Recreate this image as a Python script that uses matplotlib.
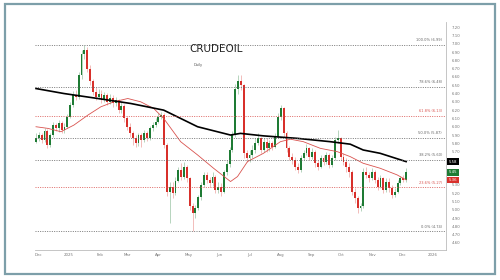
import matplotlib
matplotlib.use("Agg")
import matplotlib.pyplot as plt
import matplotlib.dates as mdates
from matplotlib.patches import Rectangle
import numpy as np
import pandas as pd

# --- Data ---
closes = [5.86, 5.90, 5.84, 5.95, 5.78, 5.90, 6.02, 5.98, 6.05, 5.96,
          6.00, 6.12, 6.26, 6.38, 6.36, 6.62, 6.88, 6.93, 6.70, 6.55,
          6.42, 6.36, 6.40, 6.32, 6.38, 6.30, 6.35, 6.28, 6.32, 6.20,
          6.25, 6.10, 6.00, 5.92, 5.86, 5.80, 5.90, 5.84, 5.92, 5.86,
          5.98, 6.02, 6.06, 6.12, 6.14, 5.78, 5.22, 5.28, 5.20, 5.35,
          5.48, 5.40, 5.52, 5.38, 5.05, 4.96, 5.02, 5.15, 5.30, 5.42,
          5.36, 5.32, 5.40, 5.24, 5.28, 5.22, 5.45, 5.55, 5.72, 5.90,
          6.45, 6.55, 6.50, 5.68, 5.62, 5.66, 5.72, 5.80, 5.86, 5.72,
          5.82, 5.74, 5.80, 5.76, 5.88, 6.12, 6.22, 5.92, 5.74, 5.64,
          5.60, 5.52, 5.48, 5.62, 5.68, 5.74, 5.64, 5.70, 5.56, 5.52,
          5.62, 5.58, 5.66, 5.54, 5.62, 5.84, 5.86, 5.64, 5.58, 5.52,
          5.45, 5.22, 5.14, 5.02, 5.04, 5.46, 5.42, 5.38, 5.46, 5.36,
          5.28, 5.38, 5.24, 5.34, 5.26, 5.18, 5.22, 5.32, 5.38, 5.36,
          5.45]
highs = [5.92, 5.94, 5.93, 5.98, 5.97, 5.93, 6.06, 6.05, 6.08, 6.07,
         6.04, 6.15, 6.30, 6.43, 6.44, 6.66, 6.92, 6.99, 6.96, 6.74,
         6.58, 6.48, 6.46, 6.44, 6.42, 6.41, 6.40, 6.38, 6.36, 6.34,
         6.30, 6.27, 6.13, 6.04, 5.95, 5.90, 5.93, 5.93, 5.96, 5.95,
         6.01, 6.06, 6.10, 6.16, 6.18, 6.16, 5.80, 5.33, 5.34, 5.40,
         5.52, 5.56, 5.58, 5.54, 5.40, 5.08, 5.06, 5.18, 5.34, 5.46,
         5.46, 5.40, 5.45, 5.42, 5.33, 5.32, 5.48, 5.60, 5.76, 5.95,
         6.52, 6.62, 6.62, 6.52, 5.72, 5.72, 5.78, 5.86, 5.92, 5.88,
         5.86, 5.86, 5.84, 5.83, 5.92, 6.16, 6.26, 6.24, 5.95, 5.77,
         5.68, 5.63, 5.56, 5.66, 5.72, 5.79, 5.76, 5.74, 5.72, 5.60,
         5.66, 5.66, 5.70, 5.68, 5.66, 5.88, 5.96, 5.88, 5.68, 5.62,
         5.56, 5.48, 5.26, 5.16, 5.08, 5.50, 5.52, 5.46, 5.50, 5.48,
         5.40, 5.42, 5.40, 5.38, 5.38, 5.30, 5.26, 5.36, 5.41, 5.42,
         5.50]
lows = [5.80, 5.83, 5.80, 5.82, 5.74, 5.76, 5.88, 5.95, 5.94, 5.93,
        5.93, 5.98, 6.10, 6.24, 6.32, 6.34, 6.58, 6.82, 6.66, 6.50,
        6.38, 6.32, 6.33, 6.28, 6.30, 6.26, 6.27, 6.24, 6.25, 6.16,
        6.17, 6.06, 5.96, 5.88, 5.78, 5.76, 5.77, 5.76, 5.82, 5.83,
        5.84, 5.95, 6.00, 6.04, 6.09, 5.74, 5.16, 4.84, 5.14, 5.18,
        5.33, 5.36, 5.37, 5.33, 5.00, 4.74, 4.90, 5.00, 5.12, 5.27,
        5.32, 5.27, 5.29, 5.20, 5.20, 5.17, 5.20, 5.42, 5.52, 5.70,
        5.88, 6.40, 6.44, 5.62, 5.58, 5.58, 5.62, 5.68, 5.78, 5.68,
        5.70, 5.70, 5.71, 5.72, 5.74, 5.86, 6.08, 5.88, 5.70, 5.60,
        5.55, 5.48, 5.44, 5.46, 5.60, 5.66, 5.60, 5.61, 5.52, 5.48,
        5.50, 5.54, 5.55, 5.50, 5.52, 5.60, 5.80, 5.60, 5.54, 5.46,
        5.40, 5.18, 5.08, 4.96, 4.98, 5.02, 5.38, 5.34, 5.36, 5.32,
        5.24, 5.26, 5.20, 5.22, 5.22, 5.14, 5.15, 5.20, 5.30, 5.33,
        5.34]
first_open = 5.82

ma_slow_dates = ["2024-11-29", "2024-12-27", "2025-01-30", "2025-03-04",
                 "2025-04-06", "2025-05-10", "2025-06-12", "2025-06-22",
                 "2025-07-15", "2025-08-18", "2025-09-20", "2025-10-10",
                 "2025-10-23", "2025-11-09", "2025-12-05"]
ma_slow = [6.46, 6.40, 6.34, 6.28, 6.20, 6.00, 5.90, 5.92, 5.89, 5.86,
           5.82, 5.79, 5.72, 5.68, 5.58]

ma_fast_dates = ["2024-11-29", "2024-12-11", "2024-12-24", "2025-01-06",
                 "2025-01-20", "2025-02-02", "2025-02-15", "2025-03-01",
                 "2025-03-14", "2025-03-27", "2025-04-06", "2025-04-23",
                 "2025-05-10", "2025-05-26", "2025-06-12", "2025-06-19",
                 "2025-06-29", "2025-07-15", "2025-08-01", "2025-08-11",
                 "2025-08-24", "2025-09-10", "2025-09-27", "2025-10-10",
                 "2025-10-23", "2025-11-09", "2025-11-26", "2025-12-05"]
ma_fast = [6.00, 5.98, 5.94, 6.02, 6.14, 6.24, 6.30, 6.34, 6.30, 6.22,
           6.10, 5.82, 5.66, 5.50, 5.34, 5.40, 5.58, 5.68, 5.82, 5.85,
           5.82, 5.74, 5.70, 5.64, 5.56, 5.50, 5.42, 5.36]

fib_pcts = ["100.0%", "78.6%", "61.8%", "50.0%", "38.2%", "23.6%", "0.0%"]
fib_vals = [6.99, 6.48, 6.13, 5.87, 5.60, 5.27, 4.74]
fib_colors = ["#666666", "#666666", "#d9534f", "#666666", "#666666", "#d9534f", "#666666"]

dates = pd.date_range("2024-11-29", "2025-12-05", periods=len(closes))
opens = [first_open] + closes[:-1]

GREEN = "#1e7b34"
RED = "#d8302b"

fig = plt.figure(figsize=(5, 2.8), dpi=100)
ax = fig.add_axes([0.07, 0.107, 0.822, 0.814])

# outer frame
fig.patches.append(Rectangle((0.009, 0.02), 0.98, 0.966, transform=fig.transFigure,
                             fill=False, edgecolor="#7d9fa9", linewidth=1.6))

x = mdates.date2num(dates)
w = 1.9
for xi, o, h, l, c in zip(x, opens, highs, lows, closes):
    col = GREEN if c >= o else RED
    ax.vlines(xi, l, h, color=col, linewidth=0.5, alpha=0.45)
    ax.bar(xi, abs(c - o) if abs(c - o) > 0.005 else 0.01, bottom=min(o, c),
           width=w, color=col, linewidth=0)

ax.plot(pd.to_datetime(ma_fast_dates), ma_fast, color="#d9534f", linewidth=0.6)
ax.plot(pd.to_datetime(ma_slow_dates), ma_slow, color="black", linewidth=1.2)

for pct, v, col in zip(fib_pcts, fib_vals, fib_colors):
    ax.axhline(v, color=col, linestyle=(0, (1.2, 1.6)), linewidth=0.6)
    ax.text(0.99, v + 0.03, f"{pct} ({v:.2f})", transform=ax.get_yaxis_transform(),
            ha="right", va="bottom", fontsize=2.6, color=col)

ax.set_xlim(mdates.date2num(pd.Timestamp("2024-11-28")),
            mdates.date2num(pd.Timestamp("2026-01-14")))
ax.set_ylim(4.515, 7.26)

# last-value tags on the price scale
tags = [(ma_slow[-1], "black"), (closes[-1], GREEN), (ma_fast[-1], RED)]

yt = np.round(np.arange(4.6, 7.21, 0.1), 2)
ax.yaxis.tick_right()
ax.set_yticks(yt)
# tick labels hidden behind the tags, as on the reference
ax.set_yticklabels(["" if any(abs(t - v) < 0.06 for v, _ in tags) else f"{t:.2f}"
                    for t in yt])
ax.tick_params(axis="y", labelsize=2.8, colors="#777777", length=0, pad=4)

month_ticks = pd.date_range("2024-12-01", "2026-01-01", freq="MS")
ax.set_xticks(mdates.date2num(month_ticks))
ax.set_xticklabels(["2025" if d.month == 1 and d.year == 2025 else
                    "2026" if d.year == 2026 else d.strftime("%b") for d in month_ticks])
ax.tick_params(axis="x", labelsize=2.8, colors="#777777", length=0, pad=2)

for s in ["top", "left"]:
    ax.spines[s].set_visible(False)
ax.spines["right"].set_color("#bbbbbb")
ax.spines["right"].set_linewidth(0.6)
ax.spines["bottom"].set_color("#bbbbbb")
ax.spines["bottom"].set_linewidth(0.6)

ax.text(0.375, 0.88, "CRUDEOIL", transform=ax.transAxes, fontsize=7.5, color="#222222",
        ha="left", va="center")
ax.text(0.385, 0.81, "Daily", transform=ax.transAxes, fontsize=2.6, color="#555555",
        ha="left", va="center")

for v, col in tags:
    ax.annotate(f"{v:.2f}", xy=(1.0, v), xycoords=ax.get_yaxis_transform(),
                xytext=(2, 0), textcoords="offset points", fontsize=2.8, color="white",
                ha="left", va="center",
                bbox=dict(boxstyle="square,pad=0.35", fc=col, ec="none"))

fig.savefig("out.png", dpi=100, facecolor="white")
